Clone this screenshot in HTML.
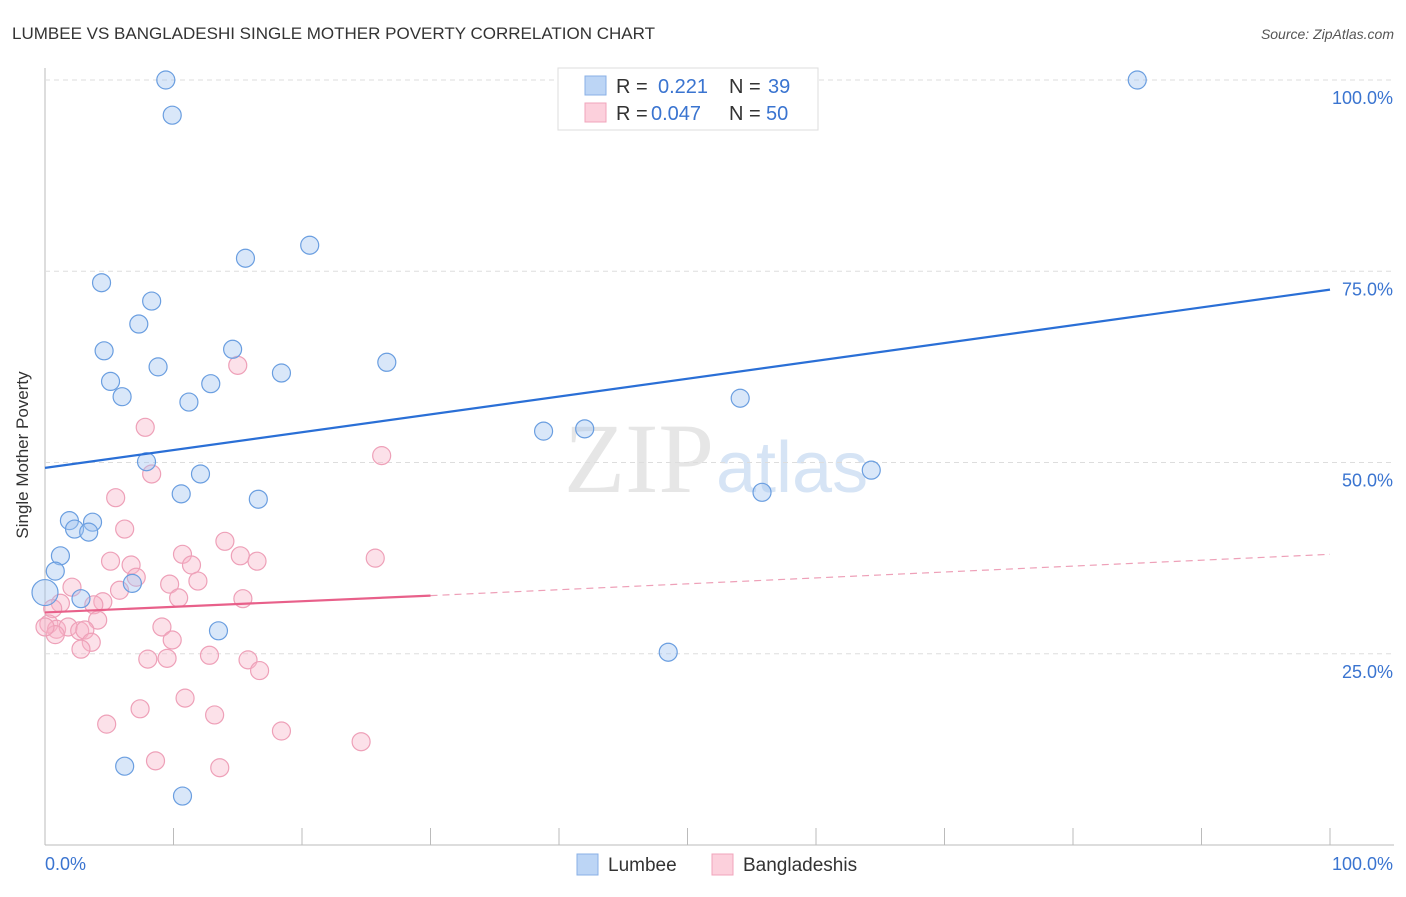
<!DOCTYPE html>
<html><head><meta charset="utf-8"><style>
body{margin:0;background:#fff;font-family:"Liberation Sans",sans-serif;}
</style></head><body>
<svg width="1406" height="892" xmlns="http://www.w3.org/2000/svg" style="font-family:'Liberation Sans',sans-serif">
<text x="12" y="39" font-size="17" fill="#333">LUMBEE VS BANGLADESHI SINGLE MOTHER POVERTY CORRELATION CHART</text>
<text x="1394" y="39" font-size="14" fill="#555" font-style="italic" text-anchor="end">Source: ZipAtlas.com</text>
<text x="714" y="492" font-size="100" fill="#e6e6e6" font-family="Liberation Serif,serif" text-anchor="end">ZIP</text>
<text x="716" y="492" font-size="72" fill="#d6e4f5">atlas</text>
<g id="grid"></g>
<g id="marks"></g>
<text x="28" y="455" font-size="17" fill="#333" text-anchor="middle" transform="rotate(-90 28 455)">Single Mother Poverty</text>
<g>
<rect x="558" y="68" width="260" height="62" fill="#fff" stroke="#ddd"/>
<rect x="585" y="76" width="21" height="19" fill="#bcd5f5" stroke="#8ab0e6"/>
<rect x="585" y="103" width="21" height="19" fill="#fcd0dc" stroke="#f0a5bb"/>
<text x="616" y="93" font-size="20" fill="#333">R = </text><text x="658" y="93" font-size="20" fill="#3a74d0">0.221</text>
<text x="729" y="93" font-size="20" fill="#333">N = </text><text x="768" y="93" font-size="20" fill="#3a74d0">39</text>
<text x="616" y="120" font-size="20" fill="#333">R = </text><text x="651" y="120" font-size="20" fill="#3a74d0">0.047</text>
<text x="729" y="120" font-size="20" fill="#333">N = </text><text x="766" y="120" font-size="20" fill="#3a74d0">50</text>
</g>
<g>
<rect x="577" y="854" width="21" height="21" fill="#bcd5f5" stroke="#8ab0e6"/>
<text x="608" y="871" font-size="19" fill="#333">Lumbee</text>
<rect x="712" y="854" width="21" height="21" fill="#fcd0dc" stroke="#f0a5bb"/>
<text x="743" y="871" font-size="19" fill="#333">Bangladeshis</text>
</g>
</svg>
<script>
const yTicks=[25,50,75,100];
const yTickLabels=["25.0%","50.0%","75.0%","100.0%"];
const lumbeeX=[9.4,9.9,20.6,15.6,4.4,8.3,7.3,4.6,14.6,8.8,26.6,18.4,5.1,12.9,6.0,11.2,54.1,38.8,42.0,7.9,12.1,10.6,16.6,64.3,55.8,1.9,3.7,2.3,3.4,1.2,0.8,0.0,2.8,6.8,13.5,48.5,6.2,10.7,85.0];
const lumbeeY=[100,95.4,78.4,76.7,73.5,71.1,68.1,64.6,64.8,62.5,63.1,61.7,60.6,60.3,58.6,57.9,58.4,54.1,54.4,50.1,48.5,45.9,45.2,49.0,46.1,42.4,42.2,41.3,40.9,37.8,35.8,33.0,32.2,34.2,28.0,25.2,10.3,6.4,100];
const bangX=[15.0,7.8,26.2,8.3,5.5,6.2,14.0,10.7,5.1,6.7,15.2,16.5,25.7,11.4,7.1,9.7,2.1,11.9,5.8,10.4,15.4,1.2,4.5,3.8,0.6,4.1,0.3,0.9,1.8,2.7,3.1,9.1,0.8,3.6,9.9,2.8,12.8,8.0,9.5,15.8,16.7,10.9,7.4,13.2,4.8,18.4,24.6,8.6,13.6,0.0];
const bangY=[62.7,54.6,50.9,48.5,45.4,41.3,39.7,38.0,37.1,36.6,37.8,37.1,37.5,36.6,35.0,34.1,33.7,34.5,33.3,32.3,32.2,31.6,31.8,31.4,30.9,29.4,28.9,28.2,28.5,28.0,28.1,28.5,27.5,26.5,26.8,25.6,24.8,24.3,24.4,24.2,22.8,19.2,17.8,17.0,15.8,14.9,13.5,11.0,10.1,28.5];
const lumbeeTrend=[0,49.3,100,72.6];
const bangTrend=[0,30.4,30,32.6,100,38.0];
const X=v=>45+v*12.85, Y=v=>845-v*7.65;
const NS="http://www.w3.org/2000/svg";
const grid=document.getElementById('grid'), marks=document.getElementById('marks');
function mk(tag,attrs,parent){const e=document.createElementNS(NS,tag);for(const k in attrs)e.setAttribute(k,attrs[k]);parent.appendChild(e);return e;}
let ax=mk('line',{x1:45,y1:68,x2:45,y2:845,stroke:'#bbb'},grid);


let bx=mk('line',{x1:45,y1:845,x2:1394,y2:845,stroke:'#bbb'},grid);


yTicks.forEach((t,i)=>{
 let g=mk('line',{x1:45,y1:Y(t),x2:1394,y2:Y(t),stroke:'#ddd','stroke-dasharray':'5,4'},grid);
 
 
 let l=mk('text',{x:1393,y:Y(t)+24,'font-size':18,fill:'#3a74d0','text-anchor':'end'},grid);
 l.textContent=yTickLabels[i];
 
 
});
for(let i=0;i<=10;i++){
 let x=45+i*128.5;
 let t=mk('line',{x1:x,y1:828,x2:x,y2:845,stroke:'#bbb'},grid);
 
 
}
let x0=mk('text',{x:45,y:870,'font-size':18,fill:'#3a74d0'},grid);x0.textContent='0.0%';


let x1=mk('text',{x:1393,y:870,'font-size':18,fill:'#3a74d0','text-anchor':'end'},grid);x1.textContent='100.0%';


bangX.forEach((v,i)=>{
 let c=mk('circle',{cx:X(v),cy:Y(bangY[i]),r:9,fill:'rgba(248,180,200,0.4)',stroke:'#eea0b8','stroke-width':1.2},marks);
 
 
});
lumbeeX.forEach((v,i)=>{
 let c=mk('circle',{cx:X(v),cy:Y(lumbeeY[i]),r:(i==31?13:9),fill:'rgba(160,195,240,0.4)',stroke:'#6a9ee0','stroke-width':1.2},marks);
 
 
});
let lt=mk('line',{x1:X(lumbeeTrend[0]),y1:Y(lumbeeTrend[1]),x2:X(lumbeeTrend[2]),y2:Y(lumbeeTrend[3]),stroke:'#2a6fd6','stroke-width':2.2},marks);


let bt=mk('line',{x1:X(bangTrend[0]),y1:Y(bangTrend[1]),x2:X(bangTrend[2]),y2:Y(bangTrend[3]),stroke:'#e8608a','stroke-width':2.2},marks);


let bd=mk('line',{x1:X(bangTrend[2]),y1:Y(bangTrend[3]),x2:X(bangTrend[4]),y2:Y(bangTrend[5]),stroke:'#eea0b8','stroke-width':1.2,'stroke-dasharray':'7,5'},marks);


</script>
</body></html>
